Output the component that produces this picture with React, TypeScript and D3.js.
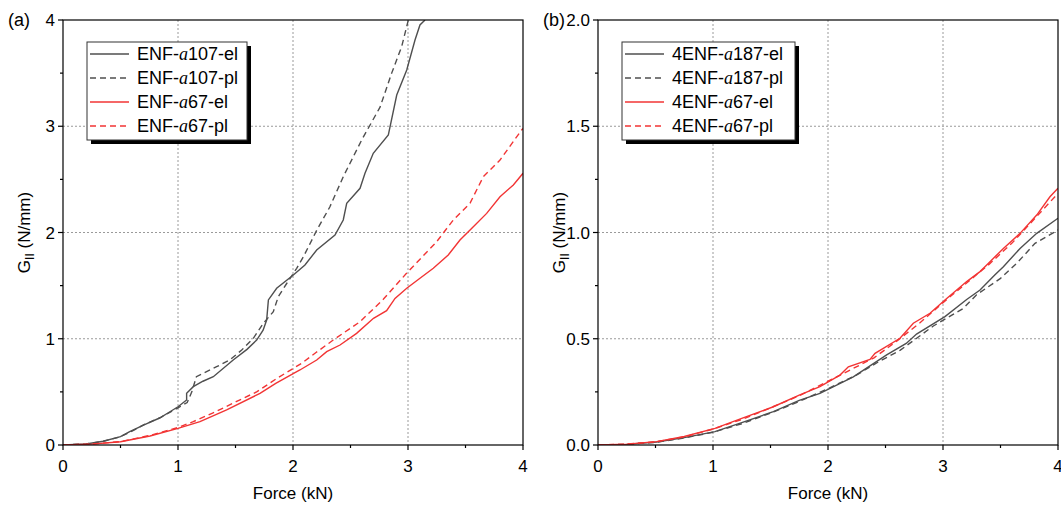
import * as d3 from 'd3';
import React from 'react';

// panel (a) curves: [force kN, G_II N/mm]
const a107el = [[0,0],[0.2,0.01],[0.35,0.035],[0.5,0.078],[0.58,0.125],[0.7,0.188],[0.84,0.254],[0.93,0.313],[1.0,0.36],[1.075,0.424],[1.075,0.486],[1.133,0.549],[1.217,0.6],[1.307,0.643],[1.48,0.8],[1.6,0.9],[1.684,0.988],[1.74,1.08],[1.771,1.176],[1.786,1.365],[1.858,1.475],[2.003,1.6],[2.104,1.694],[2.206,1.835],[2.365,1.976],[2.437,2.118],[2.467,2.275],[2.583,2.416],[2.626,2.557],[2.698,2.745],[2.829,2.918],[2.902,3.294],[2.989,3.529],[3.061,3.812],[3.104,3.953],[3.148,4.0]];
const a107pl = [[0,0],[0.2,0.01],[0.35,0.035],[0.5,0.078],[0.6,0.13],[0.7,0.19],[0.85,0.26],[1.0,0.35],[1.08,0.4],[1.12,0.5],[1.16,0.643],[1.336,0.737],[1.45,0.8],[1.554,0.894],[1.655,1.004],[1.742,1.145],[1.829,1.255],[1.872,1.396],[1.945,1.52],[2.032,1.663],[2.09,1.77],[2.206,2.02],[2.32,2.24],[2.437,2.525],[2.597,2.87],[2.757,3.18],[2.858,3.5],[2.945,3.75],[3.003,4.0]];
const a67el = [[0,0],[0.25,0.008],[0.5,0.031],[0.757,0.085],[1.0,0.157],[1.191,0.22],[1.423,0.33],[1.713,0.486],[1.85,0.58],[2.06,0.706],[2.206,0.8],[2.293,0.878],[2.409,0.941],[2.553,1.051],[2.7,1.192],[2.814,1.264],[2.887,1.38],[2.989,1.475],[3.104,1.569],[3.22,1.663],[3.35,1.788],[3.452,1.929],[3.568,2.055],[3.684,2.18],[3.8,2.337],[3.916,2.447],[4.0,2.557]];
const a67pl = [[0,0],[0.25,0.008],[0.5,0.032],[0.757,0.09],[1.0,0.165],[1.133,0.22],[1.3,0.3],[1.51,0.41],[1.684,0.5],[1.85,0.62],[2.075,0.769],[2.2,0.87],[2.35,0.988],[2.583,1.16],[2.785,1.371],[2.987,1.616],[3.249,1.913],[3.394,2.118],[3.539,2.275],[3.655,2.525],[3.8,2.682],[3.988,2.965],[4.0,2.98]];

// panel (b) curves
const b187el = [[0,0],[0.25,0.003],[0.51,0.014],[0.75,0.035],[1.017,0.063],[1.25,0.105],[1.525,0.157],[1.75,0.21],[1.93,0.243],[2.22,0.321],[2.51,0.424],[2.68,0.478],[2.77,0.522],[3.017,0.604],[3.206,0.685],[3.322,0.729],[3.45,0.8],[3.525,0.839],[3.67,0.925],[3.815,0.996],[4.0,1.067]];
const b187pl = [[0,0],[0.25,0.003],[0.51,0.013],[0.75,0.033],[1.0,0.06],[1.25,0.1],[1.5,0.15],[1.75,0.205],[2.0,0.265],[2.25,0.33],[2.45,0.395],[2.626,0.445],[2.916,0.56],[3.177,0.643],[3.29,0.706],[3.5,0.784],[3.65,0.86],[3.8,0.949],[4.0,1.012]];
const b67el = [[0,0],[0.25,0.004],[0.51,0.016],[0.75,0.04],[1.017,0.078],[1.25,0.125],[1.525,0.18],[1.75,0.235],[1.93,0.275],[2.104,0.329],[2.177,0.368],[2.365,0.403],[2.409,0.431],[2.626,0.502],[2.742,0.573],[2.887,0.62],[3.017,0.682],[3.206,0.769],[3.322,0.816],[3.38,0.847],[3.525,0.925],[3.67,0.996],[3.815,1.082],[3.93,1.168],[4.0,1.208]];
const b67pl = [[0,0],[0.25,0.004],[0.5,0.015],[0.75,0.038],[1.0,0.075],[1.25,0.12],[1.5,0.175],[1.75,0.232],[2.0,0.3],[2.2,0.355],[2.4,0.41],[2.6,0.49],[2.8,0.575],[3.0,0.67],[3.2,0.76],[3.4,0.85],[3.6,0.95],[3.8,1.067],[4.0,1.184]];

const xTicks = [0, 1, 2, 3, 4];
const aYTicks = [0, 1, 2, 3, 4];
const bYTicks = [0, 0.5, 1.0, 1.5, 2.0];

const GRAY = '#4f4f4f';
const RED = '#f23434';
const FONT = '"Liberation Sans", Arial, sans-serif';

function Panel({ left, right, top, bottom, yMax, yTicks, yFmt, series, prefix, tag }) {
  const x = d3.scaleLinear().domain([0, 4]).range([left, right]);
  const y = d3.scaleLinear().domain([0, yMax]).range([bottom, top]);
  const line = d3.line().x(d => x(d[0])).y(d => y(d[1]));
  const clipId = 'clip-' + tag;
  const minorX = d3.range(0.5, 4, 1);
  const step = yTicks[1] - yTicks[0];
  const minorY = yTicks.slice(0, -1).map(t => t + step / 2);

  const lx = left + 24, ly = 42, lw = prefix ? 173 : 160, lh = 98;

  return (
    <g>
      <defs>
        <clipPath id={clipId}>
          <rect x={left} y={top} width={right - left} height={bottom - top} />
        </clipPath>
      </defs>
      {/* grid */}
      {xTicks.slice(1, -1).map(t => (
        <line key={'gx' + t} x1={x(t)} x2={x(t)} y1={top} y2={bottom} stroke="#9a9a9a" strokeWidth={1} strokeDasharray="2,2" />
      ))}
      {yTicks.slice(1, -1).map(t => (
        <line key={'gy' + t} x1={left} x2={right} y1={y(t)} y2={y(t)} stroke="#9a9a9a" strokeWidth={1} strokeDasharray="2,2" />
      ))}
      {/* curves */}
      <g clipPath={`url(#${clipId})`}>
        {series.map((s, i) => (
          <path key={i} d={line(s.data)} fill="none" stroke={s.color} strokeWidth={1.4}
            strokeDasharray={s.dash ? '6,4' : null} />
        ))}
      </g>
      {/* frame */}
      <rect x={left} y={top} width={right - left} height={bottom - top} fill="none" stroke="#000" strokeWidth={1.2} />
      {xTicks.map(t => (
        <g key={'xt' + t}>
          <line x1={x(t)} x2={x(t)} y1={bottom} y2={bottom + 5} stroke="#000" strokeWidth={1.2} />
          <text x={x(t)} y={bottom + 27} textAnchor="middle" fontSize={17} fontFamily={FONT}>{t}</text>
        </g>
      ))}
      {minorX.map(t => (
        <line key={'mx' + t} x1={x(t)} x2={x(t)} y1={bottom} y2={bottom + 3} stroke="#000" strokeWidth={1.2} />
      ))}
      {yTicks.map(t => (
        <g key={'yt' + t}>
          <line x1={left - 5} x2={left} y1={y(t)} y2={y(t)} stroke="#000" strokeWidth={1.2} />
          <text x={left - 8} y={y(t) + 6} textAnchor="end" fontSize={17} fontFamily={FONT}>{yFmt(t)}</text>
        </g>
      ))}
      {minorY.map(t => (
        <line key={'my' + t} x1={left - 3} x2={left} y1={y(t)} y2={y(t)} stroke="#000" strokeWidth={1.2} />
      ))}
      {/* axis titles */}
      <text x={(left + right) / 2} y={499} textAnchor="middle" fontSize={17} fontFamily={FONT}>Force (kN)</text>
      <text transform={`translate(${left - 33},${(top + bottom) / 2}) rotate(-90)`} textAnchor="middle" fontSize={17} fontFamily={FONT}>
        G<tspan fontSize={12} dy={4}>II</tspan><tspan dy={-4}> (N/mm)</tspan>
      </text>
      <text x={left - 55} y={26} fontSize={18} fontFamily={FONT}>({tag})</text>
      {/* legend */}
      <rect x={lx + 4} y={ly + 4} width={lw} height={lh} fill="#000" />
      <rect x={lx} y={ly} width={lw} height={lh} fill="#fff" stroke="#333" strokeWidth={1} />
      {series.map((s, i) => {
        const ry = ly + 12 + i * 24;
        return (
          <g key={'lg' + i}>
            <line x1={lx + 3} x2={lx + 42} y1={ry} y2={ry} stroke={s.color} strokeWidth={1.4}
              strokeDasharray={s.dash ? '6,4' : null} />
            <text x={lx + 50} y={ry + 6} fontSize={18} fontFamily={FONT}>
              {prefix}ENF-<tspan fontFamily='"Liberation Serif", serif' fontStyle="italic">a</tspan>{s.label}
            </text>
          </g>
        );
      })}
    </g>
  );
}

export default function App() {
  const seriesA = [
    { data: a107el, color: GRAY, dash: false, label: '107-el' },
    { data: a107pl, color: GRAY, dash: true, label: '107-pl' },
    { data: a67el, color: RED, dash: false, label: '67-el' },
    { data: a67pl, color: RED, dash: true, label: '67-pl' },
  ];
  const seriesB = [
    { data: b187el, color: GRAY, dash: false, label: '187-el' },
    { data: b187pl, color: GRAY, dash: true, label: '187-pl' },
    { data: b67el, color: RED, dash: false, label: '67-el' },
    { data: b67pl, color: RED, dash: true, label: '67-pl' },
  ];
  return (
    <div style={{ position: 'absolute', left: 0, top: 0 }}>
      <svg width={1061} height={508} style={{ display: 'block', background: '#fff' }}>
        <Panel left={63} right={523} top={20} bottom={445} yMax={4} yTicks={aYTicks}
          yFmt={d3.format('d')} series={seriesA} prefix="" tag="a" />
        <Panel left={598} right={1058} top={20} bottom={445} yMax={2} yTicks={bYTicks}
          yFmt={d3.format('.1f')} series={seriesB} prefix="4" tag="b" />
      </svg>
    </div>
  );
}
